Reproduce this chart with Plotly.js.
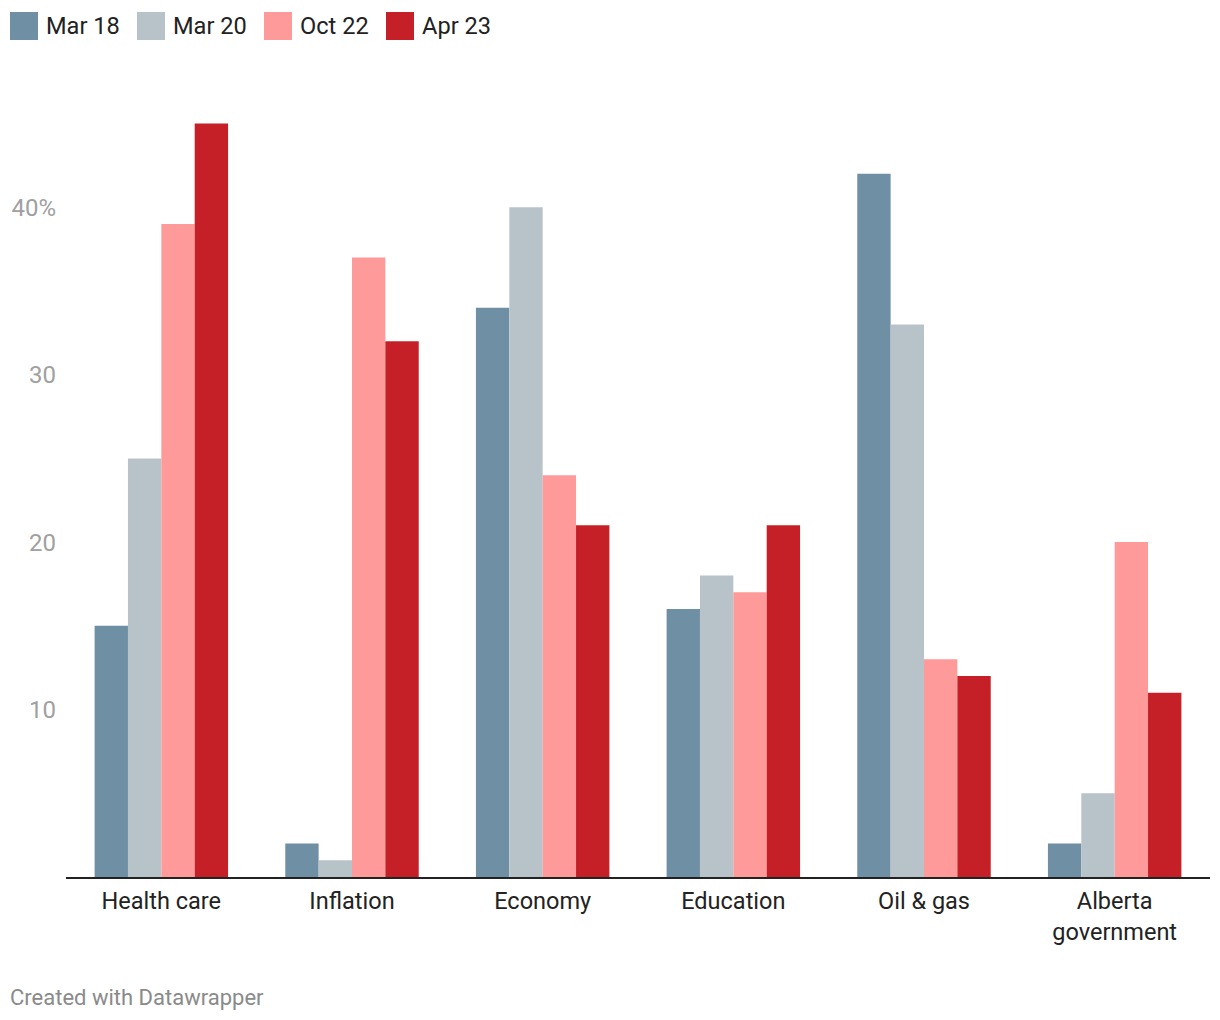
<!DOCTYPE html>
<html>
<head>
<meta charset="utf-8">
<script src="https://cdn.plot.ly/plotly-3.0.1.min.js"></script>
<style>
  html, body { margin: 0; padding: 0; background: #fff; }
  #chart { width: 1220px; height: 1020px; }
</style>
</head>
<body>
<div id="chart"></div>
<script>
const categories = ["Health care", "Inflation", "Economy", "Education", "Oil & gas", "Alberta<br>government"];
const seriesNames = ["Mar 18", "Mar 20", "Oct 22", "Apr 23"];
const mar18 = [15, 2, 34, 16, 42, 2];
const mar20 = [25, 1, 40, 18, 33, 5];
const oct22 = [39, 37, 24, 17, 13, 20];
const apr23 = [45, 32, 21, 21, 12, 11];
const tickVals = [10, 20, 30, 40];
const tickLabels = ["10", "20", "30", "40%"];

const colors = ["#6f8fa5", "#b8c3c9", "#fe9a9a", "#c52027"];
const values = [mar18, mar20, oct22, apr23];

const traces = values.map((v, i) => ({
  type: "bar",
  x: categories,
  y: v,
  name: seriesNames[i],
  marker: { color: colors[i], line: { width: 0 } },
  hoverinfo: "x+y+name",
  showlegend: false
}));

// manual legend (swatches + labels)
const legendX = [10, 137, 264, 386];
const shapes = [];
const annotations = [];
seriesNames.forEach((n, i) => {
  shapes.push({
    type: "rect", xref: "paper", yref: "paper",
    x0: (legendX[i] - 66) / 1144, x1: (legendX[i] + 28 - 66) / 1144,
    y0: (877 - 40) / 787, y1: (877 - 12) / 787,
    fillcolor: colors[i], line: { width: 0 }
  });
  annotations.push({
    xref: "paper", yref: "paper",
    x: (legendX[i] + 34 - 66) / 1144, y: (877 - 26) / 787,
    xanchor: "left", yanchor: "middle",
    text: n, showarrow: false,
    font: { family: "Roboto", size: 23.6, color: "#222" }
  });
});
annotations.push({
  xref: "paper", yref: "paper",
  x: (8 - 66) / 1144, y: (877 - 997) / 787,
  xanchor: "left", yanchor: "middle",
  text: "Created with Datawrapper", showarrow: false,
  font: { family: "Roboto", size: 22, color: "#8a8a8a" }
});

const layout = {
  width: 1220, height: 1020,
  margin: { l: 66, r: 10, t: 90, b: 143 },
  paper_bgcolor: "#fff", plot_bgcolor: "#fff",
  barmode: "group", bargap: 0.3, bargroupgap: 0,
  font: { family: "Roboto", color: "#222" },
  xaxis: {
    type: "category",
    showline: true, linecolor: "#222", linewidth: 2,
    showgrid: false, zeroline: false, ticks: "",
    tickfont: { family: "Roboto", size: 23.5, color: "#222" },
    ticklabelstandoff: 2
  },
  yaxis: {
    range: [0, 47], showgrid: false, zeroline: false, showline: false,
    tickmode: "array", tickvals: tickVals, ticktext: tickLabels,
    ticks: "", tickfont: { family: "Roboto", size: 24, color: "#a0a0a0" },
    ticklabelstandoff: 9
  },
  shapes: shapes,
  annotations: annotations
};

Plotly.newPlot("chart", traces, layout, { displayModeBar: false, staticPlot: true });
</script>
</body>
</html>
